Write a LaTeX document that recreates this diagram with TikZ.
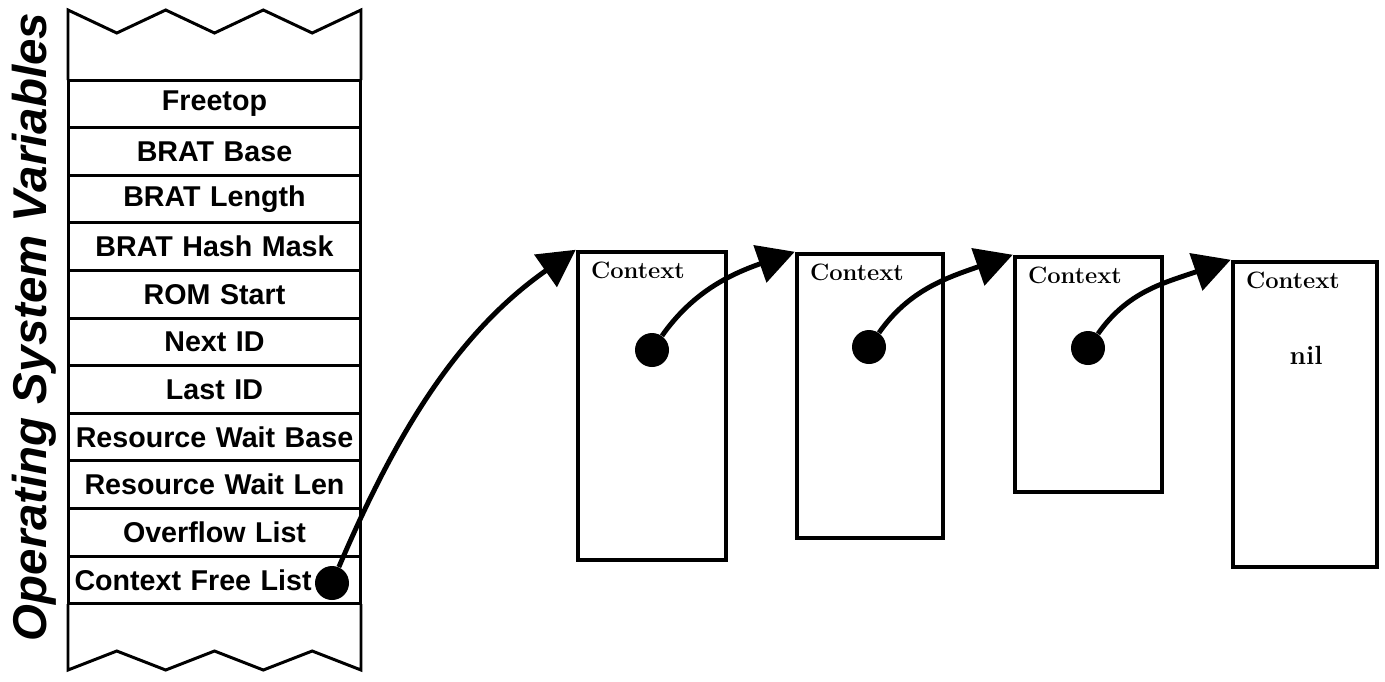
\documentclass[tikz,border=0pt]{standalone}
\usepackage{fontspec}
\newfontfamily\varfont{Liberation Sans}
\usetikzlibrary{arrows.meta}
\tikzset{cell/.style={draw, line width=1.7pt, minimum width=5.86cm, minimum height=0.952cm,
  text width=5.6cm, inner sep=0pt, font=\varfont\bfseries\fontsize{16.3}{18}\selectfont},
ctxbox/.style={draw, line width=2.6pt, inner sep=0pt},
ctxlabel/.style={anchor=north west, inner sep=0pt, font=\bfseries\fontsize{13.5}{15}\selectfont},
%filled pointer dot
ptr/.style={circle, fill=black, minimum size=0.68cm, inner sep=0pt},
link/.style={-{Triangle[length=21pt,width=22pt]}, line width=2.8pt}}

\begin{document}
\begin{tikzpicture}[x=0.02cm, y=-0.02cm]
\useasboundingbox (0,0) rectangle (1385,681);

% side title
\node[rotate=90, anchor=base, font=\varfont\bfseries\itshape\fontsize{27}{30}\selectfont] (title) at (46,327) {Operating System Variables};

% variable table
\foreach \txt/\al [count=\i] in {Freetop/center, BRAT Base/center, BRAT Length/center,
    BRAT Hash Mask/center, ROM Start/center, Next ID/center, Last ID/center,
    Resource Wait Base/center, Resource Wait Len/center, Overflow List/center,
    Context Free List/left}
  \node[cell, align=\al] (var\i) at (214.5,{80+47.6*(\i-0.5)}) {\txt};

% torn ends of the table
\draw[line width=1.7pt] (68,80) -- (68,10) -- (116.8,33) -- (165.7,10) -- (214.5,33)
  -- (263.3,10) -- (312.2,33) -- (361,10) -- (361,80);
\draw[line width=1.7pt] (68,604) -- (68,670) -- (116.8,651) -- (165.7,670) -- (214.5,651)
  -- (263.3,670) -- (312.2,651) -- (361,670) -- (361,604);

\node[ptr] (freeptr) at (332,583) {};

% context blocks
\node[ctxbox, minimum width=2.96cm, minimum height=6.16cm] (ctx1) at (652,406) {};
\node[ctxbox, minimum width=2.92cm, minimum height=5.68cm] (ctx2) at (870,396) {};
\node[ctxbox, minimum width=2.94cm, minimum height=4.7cm] (ctx3) at (1088.5,374.5) {};
\node[ctxbox, minimum width=2.88cm, minimum height=6.1cm] (ctx4) at (1305,414.5) {};

\foreach \i in {1,...,4}
  \node[ctxlabel] (lab\i) at ([xshift=0.3cm,yshift=-0.24cm]ctx\i.north west) {Context};

\node[font=\bfseries\fontsize{15}{17}\selectfont] (nil) at (1306,355) {nil};

\node[ptr] (next1) at (652,350) {};
\node[ptr] (next2) at (869,347) {};
\node[ptr] (next3) at (1088,348) {};

% links
\draw[link] (freeptr) .. controls +(60,-140) and +(-123,86) .. (ctx1.north west);
\draw[link] (next1) .. controls +(40,-57) and +(-66,23) .. (ctx2.north west);
\draw[link] (next2) .. controls +(40,-57) and +(-66,23) .. (ctx3.north west);
\draw[link] (next3) .. controls +(40,-57) and +(-66,23) .. (ctx4.north west);

\end{tikzpicture}
\end{document}
